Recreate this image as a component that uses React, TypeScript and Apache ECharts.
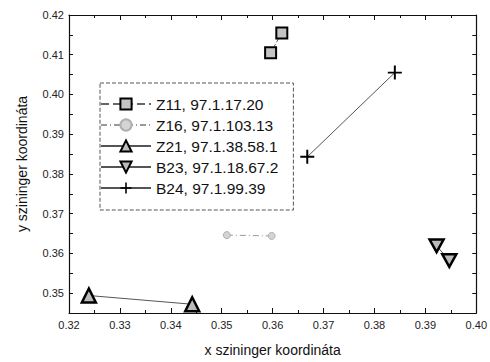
import React, { useEffect, useRef } from "react";
import * as echarts from "echarts";

const seriesNames = ["Z11, 97.1.17.20", "Z16, 97.1.103.13", "Z21, 97.1.38.58.1", "B23, 97.1.18.67.2", "B24, 97.1.99.39"];
const z11 = [[0.3596, 0.4105], [0.3618, 0.4155]];
const z16 = [[0.351, 0.3646], [0.3598, 0.3644]];
const z21 = [[0.3239, 0.3494], [0.3442, 0.3472]];
const b23 = [[0.3922, 0.3619], [0.3947, 0.3582]];
const b24 = [[0.3668, 0.3843], [0.384, 0.4055]];
const xRange = [0.32, 0.40];
const yRange = [0.345, 0.42];

const FONT = "Liberation Sans";
const PLUS = "path://M4.3,0H5.7V4.3H10V5.7H5.7V10H4.3V5.7H0V4.3H4.3Z";
const DOWN = "path://M0,0L10,0L5,9Z";

export default function App() {
  const ref = useRef<HTMLDivElement>(null);
  useEffect(() => {
    document.body.style.margin = "0";
    const chart = echarts.init(ref.current!, null, { renderer: "svg" });
    const yFmt = (v: number) => (Math.round(v * 1000) % 10 === 0 ? v.toFixed(2) : "");
    const axisCommon = {
      axisLine: { show: true, lineStyle: { color: "#111", width: 1.2 } },
      splitLine: { show: false },
    };
    chart.setOption({
      animation: false,
      backgroundColor: "#fff",
      grid: { left: 69, right: 11, top: 15, bottom: 47 },
      legend: {
        orient: "vertical",
        left: 100,
        top: 83,
        padding: [13, 15, 14, 0],
        itemWidth: 50,
        itemHeight: 14,
        itemGap: 5,
        borderColor: "#555",
        borderWidth: 1,
        borderType: "dashed",
        backgroundColor: "#fff",
        textStyle: { fontFamily: FONT, fontSize: 15.5, color: "#111" },
        data: seriesNames,
      },
      xAxis: [
        {
          type: "value",
          min: xRange[0],
          max: xRange[1],
          interval: 0.01,
          name: "x szininger koordináta",
          nameLocation: "middle",
          nameGap: 30,
          nameTextStyle: { fontFamily: FONT, fontSize: 14, color: "#111" },
          axisLabel: { fontFamily: FONT, fontSize: 11, color: "#222", margin: 6, formatter: (v: number) => v.toFixed(2) },
          axisTick: { inside: true, length: 5, lineStyle: { color: "#111" } },
          minorTick: { show: true, splitNumber: 2, length: 3, lineStyle: { color: "#111" } },
          ...axisCommon,
        },
        {
          type: "value",
          position: "top",
          min: xRange[0],
          max: xRange[1],
          interval: 0.01,
          axisLabel: { show: false },
          axisTick: { inside: true, length: 5, lineStyle: { color: "#111" } },
          minorTick: { show: true, splitNumber: 2, length: 3, lineStyle: { color: "#111" } },
          ...axisCommon,
        },
      ],
      yAxis: [
        {
          type: "value",
          min: yRange[0],
          max: yRange[1],
          interval: 0.005,
          name: "y szininger koordináta",
          nameLocation: "middle",
          nameGap: 40,
          nameTextStyle: { fontFamily: FONT, fontSize: 14, color: "#111" },
          axisLabel: { fontFamily: FONT, fontSize: 11, color: "#222", margin: 5, formatter: yFmt },
          axisTick: { inside: true, length: 4, lineStyle: { color: "#111" } },
          ...axisCommon,
        },
        {
          type: "value",
          position: "right",
          min: yRange[0],
          max: yRange[1],
          interval: 0.005,
          axisLabel: { show: false },
          axisTick: { inside: true, length: 4, lineStyle: { color: "#111" } },
          ...axisCommon,
        },
      ],
      series: [
        {
          name: seriesNames[0],
          type: "line",
          data: z11,
          symbol: "rect",
          symbolSize: 11,
          itemStyle: { color: "#c4c4c4", borderColor: "#000", borderWidth: 2 },
          lineStyle: { color: "#666", width: 1, type: "dashed" },
        },
        {
          name: seriesNames[1],
          type: "line",
          data: z16,
          symbol: "circle",
          symbolSize: 7,
          itemStyle: { color: "#d4d4d4", borderColor: "#b0b0b0", borderWidth: 1 },
          lineStyle: { color: "#999", width: 1, type: [6, 3, 1, 3] },
        },
        {
          name: seriesNames[2],
          type: "line",
          data: z21,
          symbol: "triangle",
          symbolSize: 14,
          itemStyle: { color: "#bbb", borderColor: "#000", borderWidth: 2.5 },
          lineStyle: { color: "#555", width: 1 },
        },
        {
          name: seriesNames[3],
          type: "line",
          data: b23,
          symbol: DOWN,
          symbolSize: 14,
          symbolKeepAspect: true,
          itemStyle: { color: "#bbb", borderColor: "#000", borderWidth: 2.5 },
          lineStyle: { color: "#555", width: 1 },
        },
        {
          name: seriesNames[4],
          type: "line",
          data: b24,
          symbol: PLUS,
          symbolSize: 14,
          itemStyle: { color: "#000" },
          lineStyle: { color: "#555", width: 1 },
        },
      ],
    });
    return () => chart.dispose();
  }, []);
  return <div ref={ref} style={{ width: 490, height: 362 }} />;
}
